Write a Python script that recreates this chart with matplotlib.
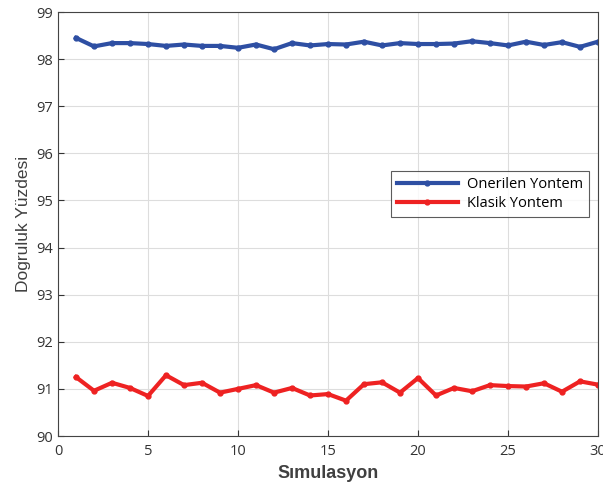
import numpy as np
import matplotlib.pyplot as plt

plt.rcParams['font.family'] = ['Open Sans', 'DejaVu Sans']

sim = np.arange(1, 31)
onerilen = [98.45, 98.27, 98.34, 98.34, 98.32, 98.28, 98.31, 98.28, 98.28, 98.24,
            98.31, 98.21, 98.34, 98.29, 98.32, 98.31, 98.37, 98.29, 98.34, 98.32,
            98.32, 98.33, 98.38, 98.34, 98.29, 98.37, 98.30, 98.36, 98.26, 98.37]
klasik = [91.25, 90.96, 91.13, 91.02, 90.85, 91.29, 91.08, 91.13, 90.92, 91.00,
          91.08, 90.92, 91.02, 90.86, 90.89, 90.75, 91.10, 91.14, 90.92, 91.23,
          90.86, 91.02, 90.95, 91.08, 91.06, 91.05, 91.12, 90.94, 91.16, 91.09]

fig = plt.figure(figsize=(6.03, 4.93), dpi=100)
ax = fig.add_axes([58/603, 1-436/493, 540/603, 424/493])

ax.plot(sim, onerilen, color='#2e4fa3', lw=3, marker='o', ms=3.5, label='Onerilen Yontem')
ax.plot(sim, klasik, color='#ee2222', lw=3, marker='o', ms=3.5, label='Klasik Yontem')

ax.set_xlim(0, 30)
ax.set_ylim(90, 99)
ax.set_xticks(range(0, 31, 5))
ax.set_yticks(range(90, 100))
ax.grid(True, color='#dddddd', lw=0.8)
ax.set_axisbelow(True)
for s in ax.spines.values():
    s.set_color('#444444')
ax.tick_params(colors='#333333', labelsize=10.5, direction='in', length=4)
ax.tick_params(axis='x', pad=6)

ax.set_xlabel('Sımulasyon', fontsize=13, fontweight='bold', color='#404040',
              family=['Liberation Sans', 'DejaVu Sans'], labelpad=4)
ax.set_ylabel('Dogruluk Yüzdesi', fontsize=12.5, color='#404040',
              family=['Liberation Sans', 'DejaVu Sans'])

leg = ax.legend(loc='lower left', bbox_to_anchor=(0.603, 0.50), fontsize=10.5,
                frameon=True, fancybox=False, edgecolor='#333333', handlelength=4.2,
                borderpad=0.4, labelspacing=0.25, handletextpad=0.6)
leg.get_frame().set_linewidth(0.8)

fig.savefig('out.png', dpi=100)
